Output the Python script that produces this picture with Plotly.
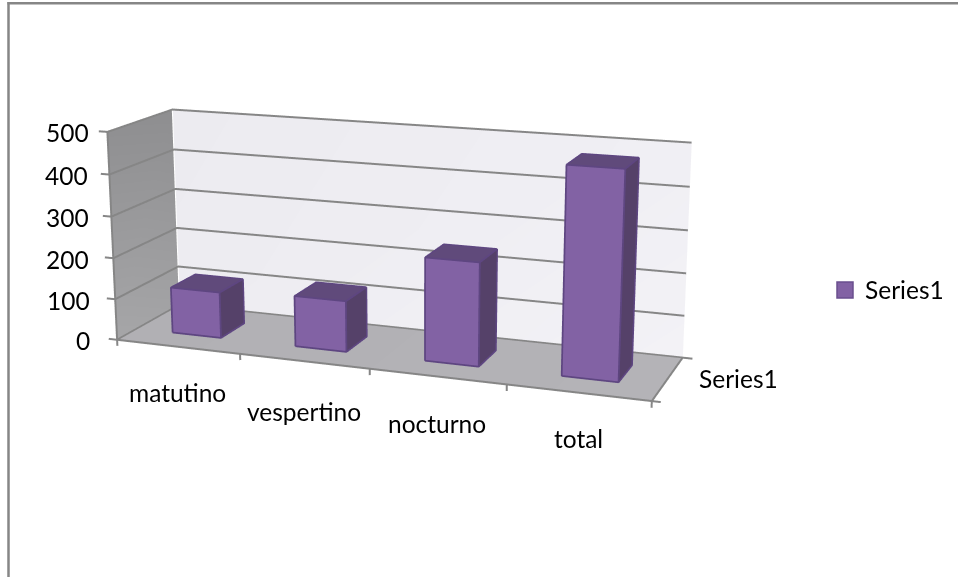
import plotly.graph_objects as go

categories = ["matutino", "vespertino", "nocturno", "total"]
values = [112, 122, 243, 477]
value_ticks = [0, 100, 200, 300, 400, 500]
series_name = "Series1"

GRAY = "#868686"
FONT = dict(family="Lato", size=24.5, color="#000000")
PAGE_H = 1459          # page taller than the window: the fixed 45 degree lens needs it for a flat perspective
OFFSET = 452           # the plot is slid up by this many px in the window

BAR_LEFT, BAR_RIGHT, BAR_FRONT, BAR_BACK = 0.3, 0.7, 0.3, 0.7
N = len(categories)
TOP = value_ticks[-1]


def seg(store, *pts):
    for p in pts:
        store[0].append(p[0]); store[1].append(p[1]); store[2].append(p[2])
    store[0].append(None); store[1].append(None); store[2].append(None)


def quad(xs, ys, zs, colors):
    return go.Mesh3d(x=xs, y=ys, z=zs, i=[0, 0], j=[1, 2], k=[2, 3], vertexcolor=colors,
                     lighting=dict(ambient=1, diffuse=0, specular=0, fresnel=0, roughness=1),
                     hoverinfo="skip", showlegend=False, showscale=False)


vx, vy, vz, fi, fj, fk, fc = [], [], [], [], [], [], []
edges = ([], [], [])
for pos, v in enumerate(values):
    x0, x1 = pos + BAR_LEFT, pos + BAR_RIGHT
    base = len(vx)
    for z in (0, v):
        for x, y in ((x0, BAR_FRONT), (x1, BAR_FRONT), (x1, BAR_BACK), (x0, BAR_BACK)):
            vx.append(x); vy.append(y); vz.append(z)
    faces = [
        ((0, 1, 5), "#8262A4"), ((0, 5, 4), "#8262A4"),   # front
        ((1, 2, 6), "#554169"), ((1, 6, 5), "#554169"),   # right
        ((4, 5, 6), "#604A7B"), ((4, 6, 7), "#604A7B"),   # top
    ]
    for (a, b, c), col in faces:
        fi.append(base + a); fj.append(base + b); fk.append(base + c); fc.append(col)
    n = 0.004   # outline nudged a hair towards the viewer
    d = lambda x, y, z: (x + n, y - n, z + 1)
    seg(edges, d(x0, BAR_FRONT, 0), d(x1, BAR_FRONT, 0), d(x1, BAR_FRONT, v), d(x0, BAR_FRONT, v),
        d(x0, BAR_FRONT, 0))
    seg(edges, d(x0, BAR_FRONT, v), d(x0, BAR_BACK, v), d(x1, BAR_BACK, v), d(x1, BAR_FRONT, v))
    seg(edges, d(x1, BAR_BACK, v), d(x1, BAR_BACK, 0), d(x1, BAR_FRONT, 0))

# grid, axis edges and ticks of the chart box, all from the tick lists
lines = ([], [], [])
for t in value_ticks:
    seg(lines, (-0.07, 0, t), (0, 0, t), (0, 1, t), (N, 1, t))
seg(lines, (0, 0, 0), (0, 0, TOP))
seg(lines, (0, 0, 0), (N, 0, 0), (N, 1, 0), (N + 0.07, 1, 0))
seg(lines, (N, 0, 0), (N + 0.06, 0, 0))
for pos in range(N + 1):
    seg(lines, (pos, 0, 0), (pos, 0, -15))

fig = go.Figure()
e = 0.006
fig.add_trace(quad([-e, -e, -e, -e], [0, 1, 1, 0], [-1, -1, TOP, TOP],
                   ["#A6A6A8", "#A2A2A4", "#8E8E90", "#909092"]))                 # side wall
fig.add_trace(quad([0, N, N, 0], [1 + e, 1 + e, 1 + e, 1 + e], [-1, -1, TOP, TOP],
                   ["#EDECF1", "#F3F2F6", "#F0EFF4", "#ECEBF0"]))                 # back wall
fig.add_trace(quad([0, N, N, 0], [0, 0, 1, 1], [-1.5, -1.5, -1.5, -1.5],
                   ["#B1B0B4", "#B4B3B7", "#B4B3B7", "#B1B0B4"]))                 # floor
fig.add_trace(go.Scatter3d(x=lines[0], y=lines[1], z=lines[2], mode="lines",
                           line=dict(color=GRAY, width=4), hoverinfo="skip", showlegend=False))
fig.add_trace(go.Mesh3d(x=vx, y=vy, z=vz, i=fi, j=fj, k=fk, facecolor=fc, flatshading=True,
                        lighting=dict(ambient=1, diffuse=0, specular=0, fresnel=0, roughness=1),
                        hoverinfo="skip", showlegend=False, showscale=False))
fig.add_trace(go.Scatter3d(x=edges[0], y=edges[1], z=edges[2], mode="lines",
                           line=dict(color="#5E4681", width=3.5), hoverinfo="skip", showlegend=False))
fig.add_trace(go.Scatter(x=[None], y=[None], mode="markers", name=series_name,
                         marker=dict(symbol="square", size=16, color="#8262A4",
                                     line=dict(color="#6A4F8E", width=1.5))))

annotations = []
for v, dx in zip(value_ticks, (-25, -23, -22, -20, -19, -16)):
    annotations.append(dict(x=0, y=0, z=v, text=str(v), showarrow=False, xanchor="right",
                            yanchor="middle", xshift=dx, yshift=-1, font=FONT))
for pos, (c, dy) in enumerate(zip(categories, (-46, -50, -47, -46))):
    annotations.append(dict(x=pos + 0.5, y=0, z=0, text=c, showarrow=False, xanchor="center",
                            yanchor="middle", yshift=dy, font=FONT))
annotations.append(dict(x=N, y=0.5, z=0, text=series_name, showarrow=False, xanchor="left",
                        yanchor="middle", xshift=29, yshift=0, font=FONT))

SCENE_W = 798.28


def fy(py):
    return 1 - (py + OFFSET) / PAGE_H


hidden = dict(visible=False)
fig.update_layout(
    width=958, height=PAGE_H, margin=dict(l=0, r=0, t=0, b=0),
    paper_bgcolor="#FFFFFF", plot_bgcolor="rgba(0,0,0,0)",
    xaxis=dict(visible=False), yaxis=dict(visible=False),
    showlegend=True,
    legend=dict(x=825 / 958, y=fy(290), xanchor="left", yanchor="middle", font=FONT,
                bgcolor="rgba(0,0,0,0)", borderwidth=0),
    scene=dict(
        domain=dict(x=[0, SCENE_W / 958], y=[0, 1]),
        bgcolor="rgba(0,0,0,0)",
        aspectmode="manual", aspectratio=dict(x=2.2, y=0.69846, z=0.93192),
        camera=dict(eye=dict(x=2.1479, y=-5.6973, z=1.5302),
                    center=dict(x=0.0824, y=-0.1757, z=-0.0692),
                    up=dict(x=-0.0472, y=0.1339, z=1),
                    projection=dict(type="perspective")),
        xaxis=dict(hidden, range=[-0.2, N + 0.2]),
        yaxis=dict(hidden, range=[-0.2, 1.2]),
        zaxis=dict(hidden, range=[-50, TOP + 50]),
        annotations=annotations,
    ),
    shapes=[
        dict(type="line", xref="paper", yref="paper", x0=7.5 / 958, x1=1, y0=fy(3.3), y1=fy(3.3),
             line=dict(color=GRAY, width=2.5)),
        dict(type="line", xref="paper", yref="paper", x0=8.5 / 958, x1=8.5 / 958, y0=fy(2), y1=fy(577),
             line=dict(color=GRAY, width=2.5)),
    ],
)

post = f"""
var gd = document.getElementById('{{plot_id}}');
document.documentElement.style.overflow = 'hidden';
document.body.style.overflow = 'hidden';
document.body.style.margin = '0';
gd.style.position = 'absolute';
gd.style.left = '0px';
gd.style.top = '-{OFFSET}px';
"""
fig.write_html("out.html", post_script=post)
